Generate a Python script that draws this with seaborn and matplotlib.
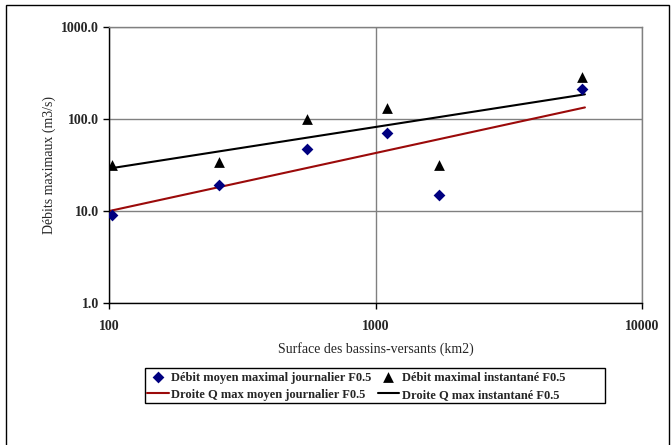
import matplotlib.pyplot as plt
import pandas as pd
import seaborn as sns
from matplotlib.patches import Rectangle
from matplotlib.ticker import FixedLocator, FixedFormatter, NullLocator

# values
surface = [103, 258, 552, 1105, 1734, 5970]
q_journalier = [9.0, 19.1, 47.9, 70.4, 15.1, 214.0]
q_instantane = [31.5, 34.3, 100.0, 132.0, 31.5, 287.0]

fit_surface = [100, 6100]
fit_journalier = [10.0, 134.0]
fit_instantane = [29.0, 186.0]

x_ticks = [100, 1000, 10000]
x_labels = ["100", "1000", "10000"]
y_ticks = [1, 10, 100, 1000]
y_labels = ["1.0", "10.0", "100.0", "1000.0"]

NAVY = "#000080"
DARK_RED = "#9B0A0A"
GRID = "#808080"

sns.set_theme(style="white")
plt.rcParams["font.family"] = ["Liberation Serif", "DejaVu Serif"]

points = pd.DataFrame({"surface": surface, "journalier": q_journalier, "instantane": q_instantane})
fits = pd.DataFrame({"surface": fit_surface, "journalier": fit_journalier, "instantane": fit_instantane})

fig = plt.figure(figsize=(6.71, 4.45), dpi=100)
ax = fig.add_axes([0.1625, 0.319, 0.7945, 0.62])

sns.lineplot(data=fits, x="surface", y="journalier", ax=ax, color=DARK_RED, linewidth=1.5,
             label="Droite Q max moyen journalier F0.5")
sns.lineplot(data=fits, x="surface", y="instantane", ax=ax, color="black", linewidth=1.5,
             label="Droite Q max instantané F0.5")
sns.scatterplot(data=points, x="surface", y="journalier", ax=ax, marker="D", s=36, color=NAVY,
                edgecolor=NAVY, linewidth=0, label="Débit moyen maximal journalier F0.5", zorder=4)
sns.scatterplot(data=points, x="surface", y="instantane", ax=ax, marker="^", s=60, color="black",
                edgecolor="black", linewidth=0, label="Débit maximal instantané F0.5", zorder=4)

ax.set_xscale("log")
ax.set_yscale("log")
ax.set_xlim(100, 10000)
ax.set_ylim(1, 1000)
ax.xaxis.set_major_locator(FixedLocator(x_ticks))
ax.xaxis.set_major_formatter(FixedFormatter(x_labels))
ax.yaxis.set_major_locator(FixedLocator(y_ticks))
ax.yaxis.set_major_formatter(FixedFormatter(y_labels))
ax.xaxis.set_minor_locator(NullLocator())
ax.yaxis.set_minor_locator(NullLocator())

ax.grid(True, which="major", color=GRID, linewidth=1)
ax.set_axisbelow(True)
for side in ["top", "right"]:
    ax.spines[side].set_color(GRID)
    ax.spines[side].set_linewidth(1)
for side in ["left", "bottom"]:
    ax.spines[side].set_color("black")
    ax.spines[side].set_linewidth(1)
ax.tick_params(axis="both", which="major", direction="out", length=4, width=1, color="black",
               labelsize=10, bottom=True, left=True)
ax.tick_params(axis="x", pad=8)
ax.tick_params(axis="y", pad=3)
for lab in ax.get_xticklabels() + ax.get_yticklabels():
    lab.set_fontweight("bold")

ax.set_xlabel("Surface des bassins-versants (km2)", fontsize=10, labelpad=7)
ax.set_ylabel("Débits maximaux (m3/s)", fontsize=10, labelpad=4)

handles, labels = ax.get_legend_handles_labels()
ax.get_legend().remove()
order = [2, 0, 3, 1]
leg = fig.legend([handles[i] for i in order], [labels[i] for i in order], loc="center left",
                 bbox_to_anchor=(143 / 671, 0.132), borderaxespad=0, ncol=2, frameon=False,
                 prop={"weight": "bold", "size": 9}, handlelength=1.7,
                 handletextpad=0.2, columnspacing=0.5, labelspacing=0.4, borderpad=0.35)

# legend box is wider than its content in the reference
fig.patches.append(Rectangle((145 / 671, 1 - 403 / 445), 460 / 671, 35 / 445,
                             transform=fig.transFigure, fill=False, edgecolor="black", linewidth=1))
# outer frame
fig.patches.append(Rectangle((6 / 671, -0.01), (669 - 6) / 671, 1 - 5 / 445 + 0.01,
                             transform=fig.transFigure, fill=False, edgecolor="black", linewidth=1))

fig.savefig("out.png", dpi=100)
